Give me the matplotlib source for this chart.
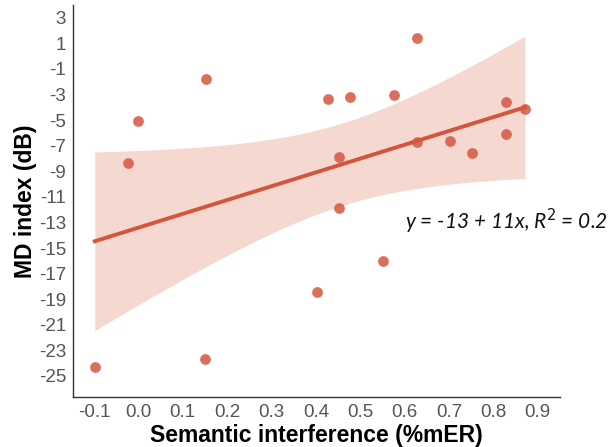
import matplotlib
matplotlib.use("Agg")
import matplotlib.pyplot as plt
import numpy as np

# values
sem_interference = [0.153, 0.0, -0.023, 0.628, 0.427, 0.477, 0.577, 0.828, 0.871,
                    0.628, 0.703, 0.752, 0.828, 0.453, 0.453, -0.098, 0.151, 0.552, 0.402]
md_index = [-1.79, -5.05, -8.36, 1.44, -3.33, -3.23, -3.02, -3.59, -4.11,
            -6.75, -6.62, -7.61, -6.05, -7.87, -11.88, -24.29, -23.64, -16.02, -18.40]

x_ticks = [-0.1, 0.0, 0.1, 0.2, 0.3, 0.4, 0.5, 0.6, 0.7, 0.8, 0.9]
y_ticks = list(range(-25, 4, 2))
equation = "y = -13 + 11x, R$^2$ = 0.2"

plt.rcParams['font.family'] = ['Liberation Sans', 'DejaVu Sans']
plt.rcParams['axes.unicode_minus'] = False

x = np.array(sem_interference)
y = np.array(md_index)

# linear fit + 95% confidence band of the mean
slope, intercept = np.polyfit(x, y, 1)
n = len(x)
resid = y - (intercept + slope * x)
s_err = np.sqrt(np.sum(resid ** 2) / (n - 2))
t_val = 2.110  # t(0.975, df=17)
xg = np.linspace(x.min(), x.max(), 200)
yg = intercept + slope * xg
half = t_val * s_err * np.sqrt(1.0 / n + (xg - x.mean()) ** 2 / np.sum((x - x.mean()) ** 2))

fig = plt.figure(figsize=(6.14, 4.47), dpi=100)
ax = fig.add_axes([0.119, 0.112, 0.793, 0.877])

ax.fill_between(xg, yg - half, yg + half, color="#f5d8d0", lw=0, zorder=1)
ax.plot(xg, yg, color="#d2553c", lw=2.8, zorder=2)
ax.scatter(x, y, s=60, color="#d4573f", alpha=0.85, linewidths=0, zorder=3)

ax.set_xlim(-0.147, 0.95)
ax.set_ylim(-26.64, 4.0)
ax.set_xticks(x_ticks)
ax.set_xticklabels(["%.1f" % v for v in x_ticks])
ax.set_yticks(y_ticks)
ax.tick_params(length=0, labelsize=13.5, labelcolor="#555555", pad=5)

for side in ["top", "right"]:
    ax.spines[side].set_visible(False)
for side in ["left", "bottom"]:
    ax.spines[side].set_color("#333333")
    ax.spines[side].set_linewidth(1.0)

ax.set_xlabel("Semantic interference (%mER)", fontsize=16.5, fontweight="bold", labelpad=2)
ax.set_ylabel("MD index (dB)", fontsize=16.5, fontweight="bold", labelpad=1)

ax.text(0.6, -12.95, equation, fontsize=15, fontstyle="italic", family=["Lato", "DejaVu Sans"],
        color="#111111", va="center", ha="left")

fig.savefig("out.png", dpi=100)
